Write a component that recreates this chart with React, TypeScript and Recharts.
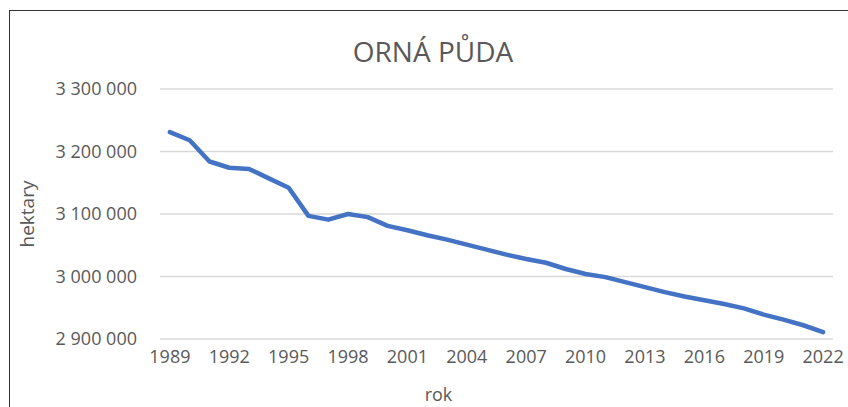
import { LineChart, Line, XAxis, YAxis, CartesianGrid } from "recharts"

const years = [
  "1989", "1990", "1991", "1992", "1993", "1994", "1995", "1996", "1997", "1998",
  "1999", "2000", "2001", "2002", "2003", "2004", "2005", "2006", "2007", "2008",
  "2009", "2010", "2011", "2012", "2013", "2014", "2015", "2016", "2017", "2018",
  "2019", "2020", "2021", "2022",
]

// orná půda v hektarech
const hectares = [
  3231000, 3218000, 3184000, 3174000, 3172000, 3157000, 3142000, 3097000, 3091000, 3100000,
  3095000, 3081000, 3074000, 3066000, 3059000, 3051000, 3043000, 3035000, 3028000, 3022000,
  3012000, 3004000, 2999000, 2991000, 2983000, 2975000, 2968000, 2962000, 2956000, 2949000,
  2939000, 2931000, 2922000, 2911000,
]

const yTicks = [2900000, 3000000, 3100000, 3200000, 3300000]

const data = years.map((y, i) => ({ rok: y, value: hectares[i] }))

const FONT = "'Open Sans', 'Noto Sans', sans-serif"
const GREY = "#595959"

const fmt = (v: number) =>
  String(v).replace(/\B(?=(\d{3})+(?!\d))/g, " ")

export default function App() {
  return (
    <div style={{ position: "absolute", left: 0, top: 0, width: 848, height: 407, background: "#fff", overflow: "hidden", fontFamily: FONT }}>
      {/* ramecek grafu */}
      <div style={{ position: "absolute", left: 9, top: 10, width: 860, height: 420, borderLeft: "1.5px solid #333", borderTop: "1.5px solid #333" }} />

      <div style={{ position: "absolute", left: 0, top: 0 }}>
        <LineChart width={848} height={407} data={data} margin={{ top: 89, right: 15, bottom: 0, left: 0 }}>
          <CartesianGrid vertical={false} stroke="#d9d9d9" strokeWidth={1.3} />
          <XAxis
            dataKey="rok"
            interval={2}
            height={68}
            axisLine={false}
            tickLine={false}
            tickMargin={5}
            padding={{ left: 9.9, right: 9.9 }}
            tick={{ fill: GREY, fontSize: 18, fontFamily: FONT }}
          />
          <YAxis
            width={160}
            domain={[2900000, 3300000]}
            ticks={yTicks}
            tickFormatter={fmt}
            axisLine={false}
            tickLine={false}
            tickMargin={17}
            tick={{ fill: GREY, fontSize: 18, fontFamily: FONT }}
          />
          <Line
            type="linear"
            dataKey="value"
            stroke="#4472c4"
            strokeWidth={4.5}
            strokeLinecap="round"
            strokeLinejoin="round"
            dot={false}
            activeDot={false}
            isAnimationActive={false}
          />
        </LineChart>
      </div>

      <div style={{ position: "absolute", left: 0, width: 866, top: 36.8, textAlign: "center", fontSize: 28, lineHeight: "28px", color: GREY }}>
        ORNÁ PŮDA
      </div>
      <div style={{ position: "absolute", left: 27, top: 214, transform: "translate(-50%, -50%) rotate(-90deg)", fontSize: 19, lineHeight: "19px", color: GREY, whiteSpace: "nowrap" }}>
        hektary
      </div>
      <div style={{ position: "absolute", left: 438.5, top: 394, transform: "translate(-50%, -50%)", fontSize: 18, lineHeight: "14px", color: GREY }}>
        rok
      </div>
    </div>
  )
}
